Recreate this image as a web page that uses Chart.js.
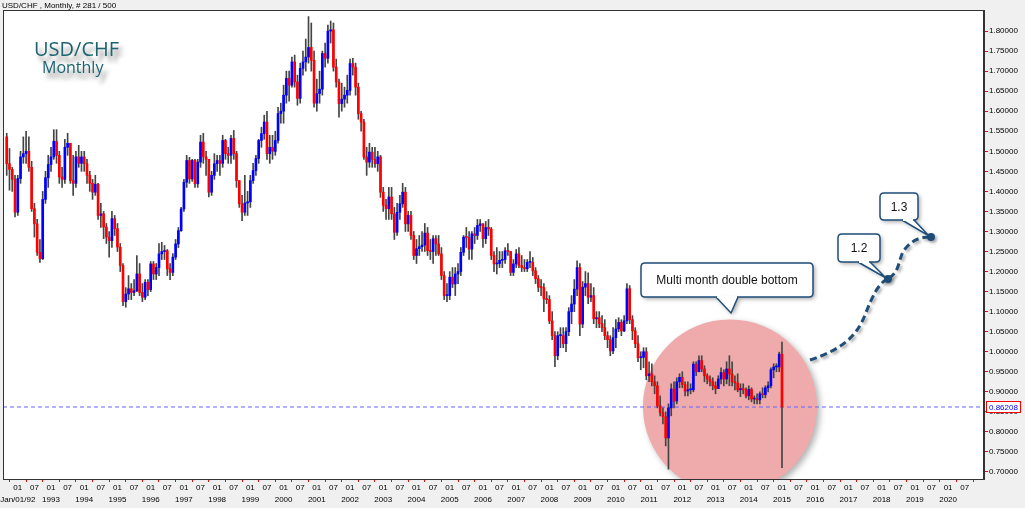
<!DOCTYPE html>
<html>
<head>
<meta charset="utf-8">
<title>USD/CHF Monthly</title>
<script src="https://cdn.jsdelivr.net/npm/chart.js@4.4.1/dist/chart.umd.min.js"></script>
<style>
  html, body { margin: 0; padding: 0; background: #f0f0f0; }
  #wrap { width: 1025px; height: 508px; }
</style>
</head>
<body>
<div id="wrap"><canvas id="usdchf" width="1025" height="508"></canvas></div>
<script>
// USD/CHF mensal, de Set/1991 (mês -4) até Jan/2015 (mês 276). Mês 0 = Jan/1992
const firstMonth = -4;
const firstOpen = 1.536;
const closes = [
    1.469, 1.455, 1.430, 1.348,
    1.432, 1.486, 1.494, 1.500, 1.460, 1.357, 1.319, 1.248, 1.232, 1.380, 1.434, 1.467,
    1.486, 1.525, 1.490, 1.436, 1.430, 1.510, 1.520, 1.427, 1.420, 1.486, 1.470, 1.486,
    1.469, 1.440, 1.420, 1.398, 1.418, 1.340, 1.344, 1.311, 1.286, 1.277, 1.332, 1.307,
    1.261, 1.215, 1.125, 1.144, 1.157, 1.148, 1.152, 1.194, 1.148, 1.136, 1.173, 1.155,
    1.219, 1.194, 1.210, 1.244, 1.250, 1.252, 1.207, 1.198, 1.236, 1.269, 1.302, 1.356,
    1.423, 1.477, 1.431, 1.477, 1.419, 1.473, 1.523, 1.486, 1.480, 1.398, 1.440, 1.469,
    1.477, 1.470, 1.527, 1.494, 1.490, 1.532, 1.494, 1.427, 1.369, 1.348, 1.371, 1.374,
    1.427, 1.452, 1.482, 1.527, 1.544, 1.573, 1.494, 1.510, 1.500, 1.527, 1.594, 1.600,
    1.640, 1.682, 1.665, 1.723, 1.673, 1.632, 1.707, 1.723, 1.735, 1.759, 1.727, 1.620,
    1.644, 1.655, 1.744, 1.732, 1.800, 1.803, 1.710, 1.673, 1.619, 1.630, 1.640, 1.652,
    1.719, 1.710, 1.660, 1.594, 1.573, 1.486, 1.473, 1.498, 1.480, 1.469, 1.486, 1.398,
    1.365, 1.357, 1.386, 1.344, 1.298, 1.348, 1.369, 1.398, 1.319, 1.340, 1.290, 1.240,
    1.257, 1.262, 1.266, 1.296, 1.252, 1.250, 1.282, 1.269, 1.244, 1.190, 1.140, 1.140,
    1.186, 1.169, 1.194, 1.200, 1.248, 1.286, 1.285, 1.256, 1.294, 1.290, 1.315, 1.319,
    1.282, 1.310, 1.306, 1.240, 1.219, 1.220, 1.228, 1.230, 1.252, 1.250, 1.198, 1.219,
    1.244, 1.215, 1.210, 1.207, 1.223, 1.223, 1.202, 1.182, 1.161, 1.160, 1.132, 1.130,
    1.077, 1.040, 0.990, 1.040, 1.040, 1.020, 1.050, 1.100, 1.119, 1.156, 1.210, 1.069,
    1.161, 1.170, 1.136, 1.140, 1.082, 1.085, 1.070, 1.060, 1.040, 1.030, 1.002, 1.035,
    1.057, 1.073, 1.052, 1.077, 1.157, 1.080, 1.052, 1.020, 0.985, 0.986, 1.000, 0.940,
    0.945, 0.925, 0.915, 0.865, 0.848, 0.838, 0.785, 0.860, 0.907, 0.877, 0.925, 0.936,
    0.918, 0.902, 0.905, 0.905, 0.969, 0.950, 0.978, 0.957, 0.940, 0.932, 0.925, 0.915,
    0.908, 0.932, 0.948, 0.932, 0.957, 0.944, 0.925, 0.922, 0.905, 0.908, 0.905, 0.890,
    0.906, 0.882, 0.883, 0.880, 0.895, 0.893, 0.910, 0.915, 0.955, 0.962, 0.962, 0.994,
    0.86208
];
const highs = [
    1.545, 1.507, 1.460, 1.440,
    1.440, 1.500, 1.536, 1.550, 1.536, 1.475, 1.370, 1.330, 1.280, 1.400, 1.450, 1.490,
    1.510, 1.554, 1.554, 1.500, 1.460, 1.530, 1.545, 1.520, 1.490, 1.500, 1.515, 1.500,
    1.500, 1.480, 1.450, 1.430, 1.440, 1.420, 1.370, 1.350, 1.320, 1.300, 1.350, 1.340,
    1.320, 1.270, 1.220, 1.160, 1.190, 1.170, 1.180, 1.240, 1.220, 1.170, 1.180, 1.180,
    1.225, 1.225, 1.220, 1.270, 1.273, 1.265, 1.255, 1.220, 1.245, 1.280, 1.310, 1.360,
    1.430, 1.490, 1.485, 1.480, 1.480, 1.480, 1.540, 1.545, 1.500, 1.480, 1.450, 1.494,
    1.490, 1.490, 1.540, 1.530, 1.510, 1.540, 1.552, 1.500, 1.420, 1.390, 1.440, 1.400,
    1.440, 1.470, 1.490, 1.530, 1.560, 1.590, 1.600, 1.540, 1.540, 1.550, 1.610, 1.620,
    1.665, 1.700, 1.700, 1.735, 1.740, 1.690, 1.720, 1.750, 1.780, 1.836, 1.820, 1.750,
    1.680, 1.700, 1.750, 1.770, 1.815, 1.825, 1.820, 1.730, 1.680, 1.670, 1.660, 1.690,
    1.730, 1.732, 1.720, 1.670, 1.600, 1.580, 1.510, 1.520, 1.510, 1.510, 1.500, 1.490,
    1.410, 1.380, 1.410, 1.410, 1.360, 1.370, 1.390, 1.420, 1.410, 1.350, 1.350, 1.300,
    1.280, 1.290, 1.300, 1.320, 1.310, 1.280, 1.290, 1.290, 1.290, 1.260, 1.200, 1.170,
    1.200, 1.210, 1.210, 1.220, 1.260, 1.290, 1.310, 1.300, 1.300, 1.310, 1.330, 1.330,
    1.320, 1.325, 1.330, 1.310, 1.250, 1.260, 1.250, 1.250, 1.260, 1.270, 1.250, 1.230,
    1.255, 1.260, 1.240, 1.230, 1.230, 1.250, 1.235, 1.210, 1.190, 1.180, 1.170, 1.150,
    1.140, 1.100, 1.050, 1.050, 1.060, 1.060, 1.060, 1.110, 1.140, 1.180, 1.227, 1.220,
    1.175, 1.200, 1.197, 1.170, 1.160, 1.100, 1.100, 1.090, 1.080, 1.050, 1.040, 1.060,
    1.080, 1.085, 1.080, 1.090, 1.170, 1.165, 1.090, 1.060, 1.040, 1.000, 1.010, 1.010,
    0.975, 0.970, 0.940, 0.925, 0.890, 0.860, 0.850, 0.870, 0.920, 0.925, 0.935, 0.945,
    0.950, 0.925, 0.925, 0.920, 0.975, 0.975, 0.990, 0.990, 0.965, 0.945, 0.940, 0.935,
    0.925, 0.940, 0.960, 0.955, 0.975, 0.990, 0.975, 0.940, 0.945, 0.920, 0.920, 0.910,
    0.915, 0.910, 0.890, 0.895, 0.900, 0.910, 0.915, 0.925, 0.960, 0.970, 0.970, 0.999,
    1.024
];
const lows = [
    1.440, 1.403, 1.400, 1.336,
    1.340, 1.420, 1.470, 1.470, 1.450, 1.350, 1.286, 1.240, 1.223, 1.230, 1.370, 1.410,
    1.450, 1.480, 1.470, 1.420, 1.410, 1.420, 1.490, 1.420, 1.390, 1.410, 1.460, 1.450,
    1.450, 1.420, 1.400, 1.380, 1.390, 1.330, 1.310, 1.282, 1.270, 1.236, 1.260, 1.290,
    1.250, 1.200, 1.115, 1.111, 1.130, 1.130, 1.140, 1.150, 1.140, 1.125, 1.130, 1.140,
    1.150, 1.180, 1.180, 1.190, 1.230, 1.230, 1.190, 1.180, 1.190, 1.230, 1.260, 1.300,
    1.350, 1.410, 1.420, 1.425, 1.410, 1.410, 1.460, 1.470, 1.440, 1.386, 1.390, 1.430,
    1.450, 1.440, 1.460, 1.480, 1.470, 1.470, 1.480, 1.410, 1.360, 1.327, 1.340, 1.340,
    1.360, 1.420, 1.440, 1.470, 1.510, 1.530, 1.480, 1.470, 1.480, 1.490, 1.520, 1.570,
    1.570, 1.620, 1.625, 1.660, 1.660, 1.615, 1.620, 1.690, 1.700, 1.720, 1.700, 1.610,
    1.600, 1.620, 1.640, 1.710, 1.720, 1.770, 1.700, 1.660, 1.585, 1.600, 1.610, 1.620,
    1.640, 1.690, 1.640, 1.580, 1.550, 1.480, 1.440, 1.460, 1.460, 1.460, 1.450, 1.385,
    1.350, 1.330, 1.330, 1.330, 1.280, 1.290, 1.330, 1.360, 1.300, 1.300, 1.280, 1.230,
    1.220, 1.240, 1.250, 1.250, 1.240, 1.230, 1.220, 1.240, 1.240, 1.180, 1.130, 1.125,
    1.130, 1.160, 1.140, 1.170, 1.190, 1.240, 1.260, 1.230, 1.230, 1.270, 1.280, 1.300,
    1.260, 1.270, 1.290, 1.230, 1.200, 1.194, 1.210, 1.210, 1.220, 1.240, 1.190, 1.190,
    1.210, 1.210, 1.200, 1.200, 1.200, 1.210, 1.190, 1.170, 1.150, 1.140, 1.100, 1.120,
    1.070, 1.030, 0.963, 0.980, 1.010, 1.010, 1.000, 1.040, 1.070, 1.100, 1.140, 1.040,
    1.060, 1.140, 1.120, 1.125, 1.070, 1.060, 1.060, 1.050, 1.030, 1.010, 0.990, 0.995,
    1.010, 1.050, 1.040, 1.050, 1.070, 1.070, 1.030, 1.010, 0.975, 0.955, 0.960, 0.930,
    0.925, 0.915, 0.895, 0.860, 0.840, 0.820, 0.765, 0.707, 0.840, 0.860, 0.870, 0.910,
    0.910, 0.890, 0.890, 0.895, 0.900, 0.940, 0.950, 0.950, 0.925, 0.920, 0.915, 0.905,
    0.895, 0.910, 0.920, 0.915, 0.920, 0.915, 0.915, 0.905, 0.900, 0.888, 0.895, 0.885,
    0.880, 0.875, 0.870, 0.870, 0.870, 0.885, 0.885, 0.900, 0.910, 0.935, 0.950, 0.950,
    0.711
];
const lastPrice = 0.86208;

// Eixos
const yTicks = [0.70, 0.75, 0.80, 0.85, 0.90, 0.95, 1.00, 1.05, 1.10, 1.15, 1.20, 1.25,
                1.30, 1.35, 1.40, 1.45, 1.50, 1.55, 1.60, 1.65, 1.70, 1.75, 1.80];
const xTickMonths = [];
for (let m = 0; m <= 342; m += 6) xTickMonths.push(m);
const firstYearLabel = 'Jan/01/92';

// Montar candles (abertura = fechamento anterior)
const bodies = [];
const wicks = [];
const bodyColors = [];
closes.forEach((c, i) => {
    const o = i === 0 ? firstOpen : closes[i - 1];
    const m = firstMonth + i;
    bodies.push({ x: m, y: [o, c] });
    wicks.push({ x: m, y: [Math.min(lows[i], o, c), Math.max(highs[i], o, c)] });
    bodyColors.push(c >= o ? '#0000ff' : '#ff0000');
});

const FONT = '"Liberation Sans", Arial, sans-serif';
const NAVY = '#1f4e79';

function roundRect(ctx, x, y, w, h, r) {
    ctx.beginPath();
    ctx.moveTo(x + r, y);
    ctx.lineTo(x + w - r, y);
    ctx.quadraticCurveTo(x + w, y, x + w, y + r);
    ctx.lineTo(x + w, y + h - r);
    ctx.quadraticCurveTo(x + w, y + h, x + w - r, y + h);
    ctx.lineTo(x + r, y + h);
    ctx.quadraticCurveTo(x, y + h, x, y + h - r);
    ctx.lineTo(x, y + r);
    ctx.quadraticCurveTo(x, y, x + r, y);
    ctx.closePath();
}

// Caixa com ponteiro (callout)
function callout(ctx, box, tail, text, fontSize) {
    ctx.save();
    ctx.shadowColor = 'rgba(0,0,0,0.35)';
    ctx.shadowBlur = 4;
    ctx.shadowOffsetX = 2;
    ctx.shadowOffsetY = 2;
    ctx.fillStyle = '#ffffff';
    roundRect(ctx, box.x, box.y, box.w, box.h, 4);
    ctx.fill();
    ctx.beginPath();
    ctx.moveTo(tail[0][0], tail[0][1]);
    ctx.lineTo(tail[1][0], tail[1][1]);
    ctx.lineTo(tail[2][0], tail[2][1]);
    ctx.closePath();
    ctx.fill();
    ctx.restore();

    ctx.save();
    ctx.strokeStyle = NAVY;
    ctx.lineWidth = 1.5;
    roundRect(ctx, box.x, box.y, box.w, box.h, 4);
    ctx.stroke();
    ctx.beginPath();
    ctx.moveTo(tail[0][0], tail[0][1]);
    ctx.lineTo(tail[1][0], tail[1][1]);
    ctx.lineTo(tail[2][0], tail[2][1]);
    ctx.stroke();
    // apaga a borda sob o ponteiro
    ctx.strokeStyle = '#ffffff';
    ctx.lineWidth = 2;
    ctx.beginPath();
    ctx.moveTo(tail[0][0] + 1, tail[0][1]);
    ctx.lineTo(tail[2][0] - 1, tail[2][1]);
    ctx.stroke();
    ctx.fillStyle = '#111';
    ctx.font = fontSize + 'px ' + FONT;
    ctx.textAlign = 'center';
    ctx.textBaseline = 'middle';
    ctx.fillText(text, box.x + box.w / 2, box.y + box.h / 2 + 1);
    ctx.restore();
}

const chartDecor = {
    id: 'chartDecor',
    beforeDraw(chart) {
        const { ctx, chartArea: a } = chart;
        ctx.save();
        ctx.fillStyle = '#f0f0f0';
        ctx.fillRect(0, 0, chart.width, chart.height);
        ctx.fillStyle = '#ffffff';
        ctx.fillRect(a.left, a.top, a.right - a.left, a.bottom - a.top);
        ctx.restore();
    },
    beforeDatasetsDraw(chart) {
        const { ctx, chartArea: a, scales: { x, y } } = chart;
        // círculo rosa do fundo duplo (por baixo dos candles)
        const cx = x.getPixelForValue(257.2);
        const cy = y.getPixelForValue(0.8635);
        ctx.save();
        ctx.beginPath();
        ctx.rect(a.left, a.top, a.right - a.left, a.bottom - a.top);
        ctx.clip();
        ctx.shadowColor = 'rgba(0,0,0,0.3)';
        ctx.shadowBlur = 6;
        ctx.shadowOffsetX = 3;
        ctx.shadowOffsetY = 3;
        ctx.fillStyle = '#efabab';
        ctx.beginPath();
        ctx.arc(cx, cy, 87, 0, Math.PI * 2);
        ctx.fill();
        ctx.restore();
    },
    afterDatasetsDraw(chart) {
        const { ctx } = chart;

        // título
        ctx.save();
        ctx.shadowColor = 'rgba(0,0,0,0.45)';
        ctx.shadowBlur = 4;
        ctx.shadowOffsetX = 4;
        ctx.shadowOffsetY = 6;
        ctx.fillStyle = '#1b6470';
        ctx.textBaseline = 'alphabetic';
        ctx.font = '20px "Open Sans", sans-serif';
        ctx.fillText('USD/CHF', 34, 56);
        ctx.font = '16px "Open Sans", sans-serif';
        ctx.fillText('Monthly', 42, 73);
        ctx.restore();

        // caixa "Multi month double bottom"
        callout(ctx, { x: 641, y: 263, w: 172, h: 34 },
            [[716, 297], [731, 313], [738, 297]], 'Multi month double bottom', 12);

        // seta tracejada de projeção
        ctx.save();
        ctx.shadowColor = 'rgba(0,0,0,0.35)';
        ctx.shadowBlur = 3;
        ctx.shadowOffsetX = 2;
        ctx.shadowOffsetY = 2;
        ctx.strokeStyle = NAVY;
        ctx.lineWidth = 3;
        ctx.setLineDash([7, 4]);
        ctx.beginPath();
        ctx.moveTo(810, 360);
        ctx.bezierCurveTo(840, 350, 856, 338, 865, 315);
        ctx.bezierCurveTo(872, 297, 878, 284, 887, 279);
        ctx.moveTo(889, 278);
        ctx.bezierCurveTo(901, 271, 898, 257, 905, 249);
        ctx.bezierCurveTo(912, 240, 920, 237, 930, 237);
        ctx.stroke();
        ctx.setLineDash([]);
        ctx.fillStyle = NAVY;
        ctx.beginPath();
        ctx.arc(888, 279, 4, 0, Math.PI * 2);
        ctx.arc(931, 237, 4, 0, Math.PI * 2);
        ctx.fill();
        ctx.restore();

        callout(ctx, { x: 838, y: 234, w: 42, h: 28 },
            [[858, 262], [886, 278], [870, 262]], '1.2', 12);
        callout(ctx, { x: 880, y: 193, w: 38, h: 27 },
            [[902, 220], [929, 236], [914, 220]], '1.3', 12);
    },
    afterDraw(chart) {
        const { ctx, chartArea: a, scales: { y } } = chart;
        ctx.save();
        // moldura
        ctx.strokeStyle = '#333';
        ctx.lineWidth = 1;
        ctx.strokeRect(a.left + 0.5, a.top + 0.5, a.right - a.left - 1, a.bottom - a.top);
        // cabeçalho
        ctx.fillStyle = '#000';
        ctx.font = '8px ' + FONT;
        ctx.textBaseline = 'alphabetic';
        ctx.fillText('USD/CHF , Monthly, # 281 / 500', 2, 8);
        // etiqueta do preço atual
        const py = Math.round(y.getPixelForValue(lastPrice));
        ctx.fillStyle = '#ffffff';
        ctx.fillRect(a.right + 2, py - 6, 35, 12);
        ctx.strokeStyle = '#ff0000';
        ctx.strokeRect(a.right + 2.5, py - 5.5, 34, 11);
        ctx.fillStyle = '#0000ff';
        ctx.textBaseline = 'middle';
        ctx.fillText(lastPrice.toFixed(5), a.right + 5, py + 0.5);
        ctx.restore();
    }
};

const chart = new Chart(document.getElementById('usdchf'), {
    type: 'bar',
    data: {
        datasets: [
            {
                label: 'Corpo',
                data: bodies,
                backgroundColor: bodyColors,
                borderWidth: 0,
                barThickness: 2,
                minBarLength: 1,
                grouped: false,
                order: 0
            },
            {
                label: 'Pavio',
                data: wicks,
                backgroundColor: '#444444',
                borderWidth: 0,
                barThickness: 1,
                grouped: false,
                order: 1
            },
            {
                type: 'line',
                label: 'Preço atual',
                data: [{ x: -5.34, y: lastPrice }, { x: 348.96, y: lastPrice }],
                borderColor: '#6464ff',
                borderWidth: 1,
                borderDash: [4, 3],
                pointRadius: 0,
                order: 2
            }
        ]
    },
    options: {
        responsive: false,
        animation: false,
        devicePixelRatio: 1,
        layout: { padding: { left: 3, top: 10, right: 0, bottom: 0 } },
        plugins: {
            legend: { display: false },
            title: { display: false },
            tooltip: { enabled: false }
        },
        scales: {
            x: {
                type: 'linear',
                min: -5.34,
                max: 348.96,
                offset: false,
                afterBuildTicks: s => { s.ticks = xTickMonths.map(v => ({ value: v })); },
                afterFit: s => { s.height = 29; },
                ticks: {
                    autoSkip: false,
                    maxRotation: 0,
                    padding: 0,
                    color: '#000',
                    font: { size: 8, family: FONT, lineHeight: 1.5 },
                    callback: v => {
                        if (v % 12 === 0) return ['01', v === 0 ? firstYearLabel : String(1992 + v / 12)];
                        return ['07', ''];
                    }
                },
                grid: { drawOnChartArea: false, tickLength: 3, color: '#ff0000' },
                border: { color: '#333' }
            },
            y: {
                position: 'right',
                min: 0.6825,
                max: 1.8525,
                afterBuildTicks: s => { s.ticks = yTicks.map(v => ({ value: v })); },
                afterFit: s => { s.width = 41; },
                ticks: {
                    padding: 1,
                    color: '#000',
                    font: { size: 8, family: FONT },
                    callback: v => v.toFixed(5)
                },
                grid: { drawOnChartArea: false, tickLength: 4, color: '#ff0000' },
                border: { color: '#333' }
            }
        }
    },
    plugins: [chartDecor]
});
</script>
</body>
</html>
